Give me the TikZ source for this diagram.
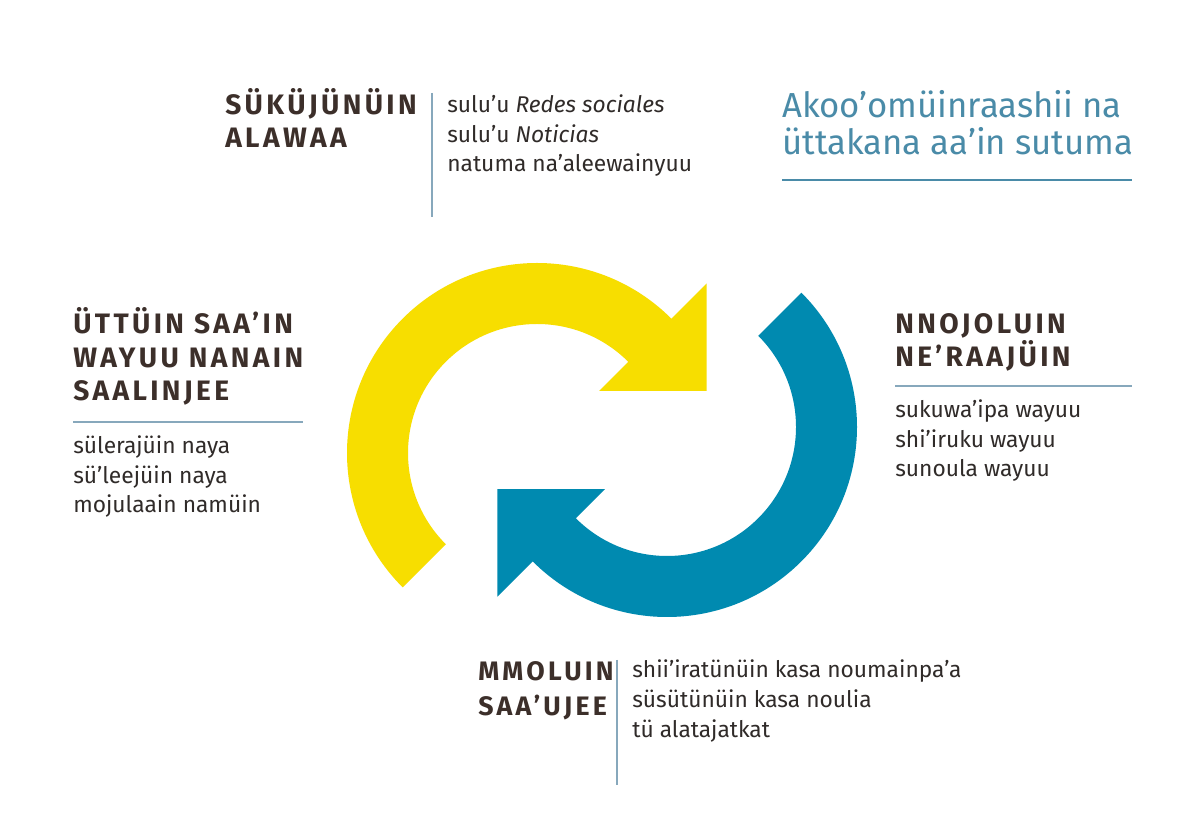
\documentclass[tikz,border=0pt]{standalone}
\usepackage{fontspec}
\setmainfont{Fira Sans}
\newfontfamily\headfont{Fira Sans}[LetterSpace=12]
\usetikzlibrary{positioning}

\definecolor{ink}{RGB}{60,47,42}
\definecolor{bodyink}{RGB}{48,43,41}
\definecolor{sunyellow}{RGB}{247,222,0}
\definecolor{seablue}{RGB}{0,138,176}
\definecolor{titleblue}{RGB}{74,139,168}
\definecolor{rulegray}{RGB}{135,168,188}

\tikzset{
  head/.style={anchor=base west,inner sep=0,align=left,text=ink,font=\headfont\bfseries\fontsize{20}{24}\selectfont},
  body/.style={anchor=base west,inner sep=0,align=left,text=bodyink,font=\fontsize{16.2}{21}\selectfont},
  rule/.style={draw=rulegray,line width=0.9pt}
}

\begin{document}
\begin{tikzpicture}
\useasboundingbox[fill=white] (0,0) rectangle (30,20.525);

% the two arrows
\begin{scope}[shift={(13.425,9.2)}]
\fill[sunyellow] (225:4.75) arc[start angle=225,end angle=45,radius=4.75] -- (45:6) -- (20.14:4.519) -- (45:2.2) -- (45:3.225) arc[start angle=45,end angle=225,radius=3.225] -- cycle;
\end{scope}
\begin{scope}[shift={(16.675,9.85)},rotate=180]
\fill[seablue] (225:4.75) arc[start angle=225,end angle=45,radius=4.75] -- (45:6) -- (20.14:4.519) -- (45:2.2) -- (45:3.225) arc[start angle=45,end angle=225,radius=3.225] -- cycle;
\end{scope}

% title
\node[anchor=base west,inner sep=0,align=left,text=titleblue,font=\fontsize{24.7}{27}\selectfont] (title) at (19.55,16.65) {Akoo’omüinraashii na\\üttakana aa’in sutuma};
\coordinate (titleL) at (19.55,16.025);
\coordinate (titleR) at (28.3,16.025);
\draw[rule,draw=titleblue] (titleL) -- (titleR);

% top
\node[head] (alawaa) at (5.625,16.825) {SÜKÜJÜNÜIN\\ALAWAA};
\coordinate (topA) at (10.8,18.2);
\coordinate (topB) at (10.8,15.1);
\draw[rule] (topA) -- (topB);
\node[body] (alawaaTxt) at (11.175,16.225) {sulu’u \textit{Redes sociales}\\sulu’u \textit{Noticias}\\natuma na’aleewainyuu};

% left
\node[head] (saalinjee) at (1.825,10.5) {ÜTTÜIN SAA’IN\\WAYUU NANAIN\\SAALINJEE};
\coordinate (leftA) at (1.825,9.975);
\coordinate (leftB) at (7.575,9.975);
\draw[rule] (leftA) -- (leftB);
\node[body] (saalinjeeTxt) at (1.825,7.7) {sülerajüin naya\\sü’leejüin naya\\mojulaain namüin};

% right
\node[head] (raajuin) at (22.375,11.35) {NNOJOLUIN\\NE’RAAJÜIN};
\coordinate (rightA) at (22.375,10.875);
\coordinate (rightB) at (28.3,10.875);
\draw[rule] (rightA) -- (rightB);
\node[body] (raajuinTxt) at (22.375,8.6) {sukuwa’ipa wayuu\\shi’iruku wayuu\\sunoula wayuu};

% bottom
\node[head,font=\headfont\bfseries\fontsize{19}{24.5}\selectfont] (saaujee) at (11.95,2.65) {MMOLUIN\\SAA’UJEE};
\coordinate (botA) at (15.425,4.025);
\coordinate (botB) at (15.425,0.9);
\draw[rule] (botA) -- (botB);
\node[body] (saaujeeTxt) at (15.8,2.1) {shii’iratünüin kasa noumainpa’a\\süsütünüin kasa noulia\\tü alatajatkat};

\end{tikzpicture}
\end{document}
